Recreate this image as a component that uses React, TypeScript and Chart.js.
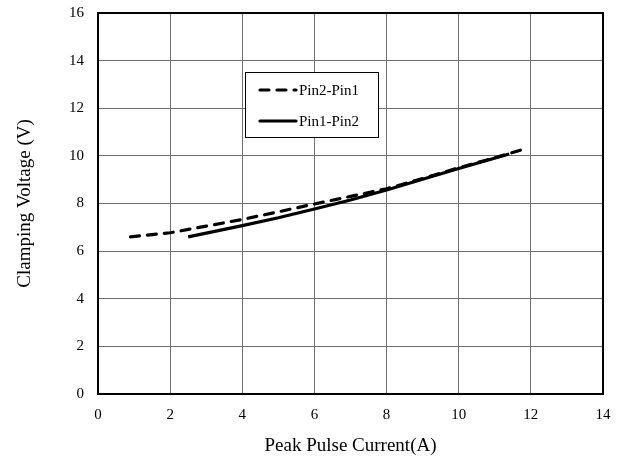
import React, { useEffect, useRef } from "react";
import { Chart, registerables } from "chart.js";

Chart.register(...registerables);

const seriesNames = ["Pin2-Pin1", "Pin1-Pin2"];
const pin21X = [0.9, 2, 3, 4, 5, 6, 7, 8, 9, 10, 11, 11.85];
const pin21Y = [6.6, 6.77, 7.05, 7.33, 7.65, 7.98, 8.3, 8.62, 9.05, 9.5, 9.92, 10.3];
const pin12X = [2.5, 4, 5, 6, 7, 8, 9, 10, 11.4];
const pin12Y = [6.6, 7.07, 7.4, 7.77, 8.15, 8.57, 9.02, 9.47, 10.08];
const xTitle = "Peak Pulse Current(A)";
const yTitle = "Clamping Voltage (V)";

const FONT = "'Liberation Serif', 'Times New Roman', serif";

const framePlugin = {
  id: "frame",
  beforeDatasetsDraw(chart: any) {
    const { ctx, chartArea: a } = chart;
    ctx.save();
    ctx.strokeStyle = "#000";
    ctx.lineWidth = 2;
    ctx.strokeRect(a.left, a.top, a.right - a.left, a.bottom - a.top);
    ctx.restore();
  },
  afterDraw(chart: any) {
    const { ctx } = chart;
    const bx = 245.5, by = 72.5, bw = 133, bh = 65;
    ctx.save();
    ctx.fillStyle = "#fff";
    ctx.fillRect(bx, by, bw, bh);
    ctx.strokeStyle = "#000";
    ctx.lineWidth = 1;
    ctx.strokeRect(bx, by, bw, bh);
    const rows = [90, 121];
    chart.data.datasets.forEach((ds: any, i: number) => {
      const y = rows[i];
      ctx.beginPath();
      ctx.lineWidth = 3.2;
      ctx.lineCap = "round";
      ctx.setLineDash(ds.borderDash || []);
      ctx.strokeStyle = "#000";
      ctx.moveTo(260, y);
      ctx.lineTo(296, y);
      ctx.stroke();
      ctx.setLineDash([]);
      ctx.fillStyle = "#000";
      ctx.font = `15px ${FONT}`;
      ctx.textBaseline = "middle";
      ctx.textAlign = "left";
      ctx.fillText(ds.label, 299, y + 1);
    });
    ctx.restore();
  },
};

export default function App() {
  const ref = useRef<HTMLCanvasElement | null>(null);
  useEffect(() => {
    if (!ref.current) return;
    const chart = new Chart(ref.current, {
      type: "scatter",
      data: {
        datasets: [
          {
            label: seriesNames[0],
            data: pin21X.map((x, i) => ({ x, y: pin21Y[i] })),
            showLine: true,
            borderColor: "#000",
            borderWidth: 3.2,
            borderDash: [9, 8],
            borderCapStyle: "round",
            pointRadius: 0,
          },
          {
            label: seriesNames[1],
            data: pin12X.map((x, i) => ({ x, y: pin12Y[i] })),
            showLine: true,
            borderColor: "#000",
            borderWidth: 3.2,
            pointRadius: 0,
          },
        ],
      },
      options: {
        animation: false,
        responsive: false,
        devicePixelRatio: 1,
        layout: { padding: { top: 13, right: 22, bottom: 0, left: 0 } },
        plugins: { legend: { display: false }, tooltip: { enabled: false } },
        scales: {
          x: {
            type: "linear",
            min: 0,
            max: 14,
            ticks: { stepSize: 2, color: "#000", font: { family: FONT, size: 15 }, padding: 12 },
            grid: { color: "#707070", lineWidth: 1, drawTicks: false },
            border: { display: false },
            title: {
              display: true,
              text: xTitle,
              color: "#000",
              font: { family: FONT, size: 19 },
              padding: { top: 4, bottom: 4 },
            },
            afterFit: (s: any) => {
              s.height = 67;
              s.paddingLeft = 0;
              s.paddingRight = 0;
            },
          },
          y: {
            type: "linear",
            min: 0,
            max: 16,
            ticks: { stepSize: 2, color: "#000", font: { family: FONT, size: 15 }, padding: 14 },
            grid: { color: "#707070", lineWidth: 1, drawTicks: false },
            border: { display: false },
            title: {
              display: true,
              text: yTitle,
              color: "#000",
              font: { family: FONT, size: 19 },
              padding: { top: 14, bottom: 0 },
            },
            afterFit: (s: any) => {
              s.width = 98;
              s.paddingTop = 0;
              s.paddingBottom = 0;
            },
          },
        },
      },
      plugins: [framePlugin],
    } as any);
    return () => chart.destroy();
  }, []);
  return (
    <div style={{ position: "absolute", left: 0, top: 0, width: 625, height: 461, background: "#fff" }}>
      <canvas ref={ref} width={625} height={461} style={{ width: 625, height: 461 }} />
    </div>
  );
}
